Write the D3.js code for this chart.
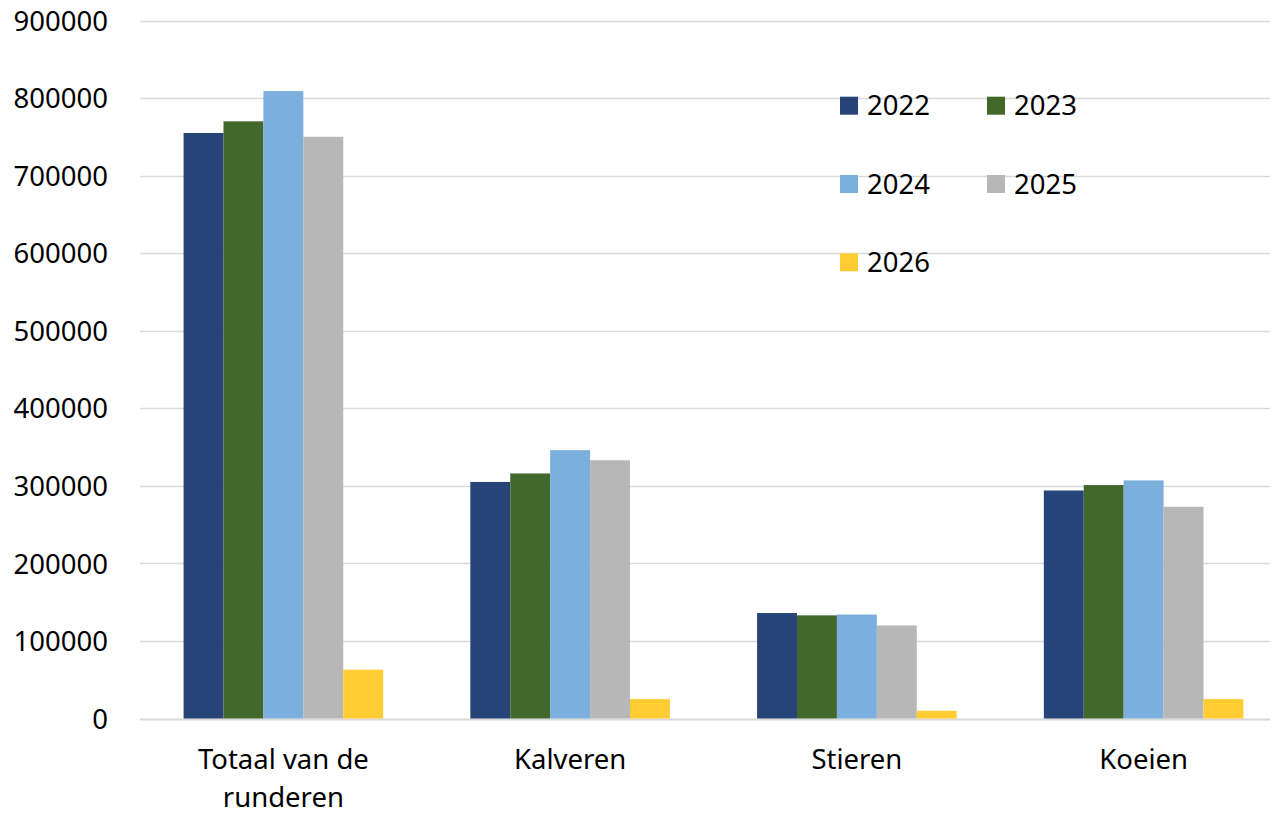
<!DOCTYPE html>
<html lang="nl">
<head>
  <meta charset="UTF-8">
  <title>Runderen per jaar</title>
  <script src="https://d3js.org/d3.v7.min.js"></script>
  <style>
    body { margin: 0; background: #fff; }
    svg { display: block; font-family: "Noto Sans", "Open Sans", sans-serif; }
  </style>
</head>
<body>
  <svg id="chart" width="1273" height="813"></svg>
  <script>
    // data
    const categories = ["Totaal van de runderen", "Kalveren", "Stieren", "Koeien"];
    const years = ["2022", "2023", "2024", "2025", "2026"];
    const values2022 = [755000, 305000, 136000, 294000];
    const values2023 = [770000, 316000, 133000, 301000];
    const values2024 = [809000, 346000, 134000, 307000];
    const values2025 = [750000, 333000, 120000, 273000];
    const values2026 = [63000, 25000, 10000, 25000];
    const yTicks = [0, 100000, 200000, 300000, 400000, 500000, 600000, 700000, 800000, 900000];
    const colors = ["#264478", "#43682B", "#7CAFDD", "#B7B7B7", "#FFCD33"];

    const seriesValues = [values2022, values2023, values2024, values2025, values2026];

    const svg = d3.select("#chart");
    const plotLeft = 140, plotRight = 1287, plotTop = 20.5, plotBottom = 718.5;
    const fontSize = 27.5;

    const x = d3.scaleBand().domain(categories).range([plotLeft, plotRight]).paddingInner(0).paddingOuter(0);
    const inner = d3.scaleBand().domain(years).range([0, x.bandwidth() * 0.696]);
    const y = d3.scaleLinear().domain([0, 900000]).range([plotBottom, plotTop]);

    // gridlines
    svg.append("g")
      .selectAll("line")
      .data(yTicks)
      .enter()
      .append("line")
      .attr("x1", plotLeft)
      .attr("x2", 1270)
      .attr("y1", d => Math.round(y(d)) + 0.5)
      .attr("y2", d => Math.round(y(d)) + 0.5)
      .attr("stroke", "#d9d9d9")
      .attr("stroke-width", d => d === 0 ? 2 : 1.5);

    // y labels
    const yAxis = svg.append("g")
      .attr("transform", `translate(${plotLeft - 32},0)`)
      .call(d3.axisLeft(y).tickValues(yTicks).tickSize(0).tickPadding(0).tickFormat(d3.format("d")));
    yAxis.select(".domain").remove();
    yAxis.selectAll("text")
      .attr("font-family", "Noto Sans, sans-serif")
      .attr("font-size", fontSize)
      .attr("fill", "#000")
      .attr("dy", "0.35em");

    // bars
    const groups = svg.append("g")
      .selectAll("g")
      .data(categories)
      .enter()
      .append("g")
      .attr("transform", d => `translate(${x(d) + (x.bandwidth() - inner.range()[1]) / 2},0)`);

    groups.selectAll("rect")
      .data((c, ci) => years.map((yr, si) => ({ yr, si, v: seriesValues[si][ci] })))
      .enter()
      .append("rect")
      .attr("x", d => inner(d.yr))
      .attr("width", inner.bandwidth())
      .attr("y", d => y(d.v))
      .attr("height", d => plotBottom - y(d.v))
      .attr("fill", d => colors[d.si]);

    // category labels, wrapped
    const catLabels = svg.append("g")
      .selectAll("text")
      .data(categories)
      .enter()
      .append("text")
      .attr("x", d => x(d) + x.bandwidth() / 2)
      .attr("y", 769)
      .attr("text-anchor", "middle")
      .attr("font-size", fontSize)
      .attr("fill", "#000");

    catLabels.each(function(d) {
      const t = d3.select(this);
      const words = d.split(" ");
      let line = [], lines = [];
      words.forEach(w => {
        const test = line.concat(w).join(" ");
        if (test.length > 14 && line.length) { lines.push(line.join(" ")); line = [w]; }
        else line.push(w);
      });
      lines.push(line.join(" "));
      lines.forEach((l, i) => {
        t.append("tspan").attr("x", x(d) + x.bandwidth() / 2).attr("dy", i ? 37.5 : 0).text(l);
      });
    });

    // legend
    const legend = svg.append("g");
    const legItems = legend.selectAll("g")
      .data(years)
      .enter()
      .append("g")
      .attr("transform", (d, i) => `translate(${840 + (i % 2) * 147},${105.7 + Math.floor(i / 2) * 78.3})`);
    legItems.append("rect")
      .attr("x", 0).attr("y", -9).attr("width", 18).attr("height", 18)
      .attr("fill", (d, i) => colors[i]);
    legItems.append("text")
      .attr("x", 27)
      .attr("dy", "0.35em")
      .attr("font-size", fontSize)
      .attr("fill", "#000")
      .text(d => d);
  </script>
</body>
</html>
